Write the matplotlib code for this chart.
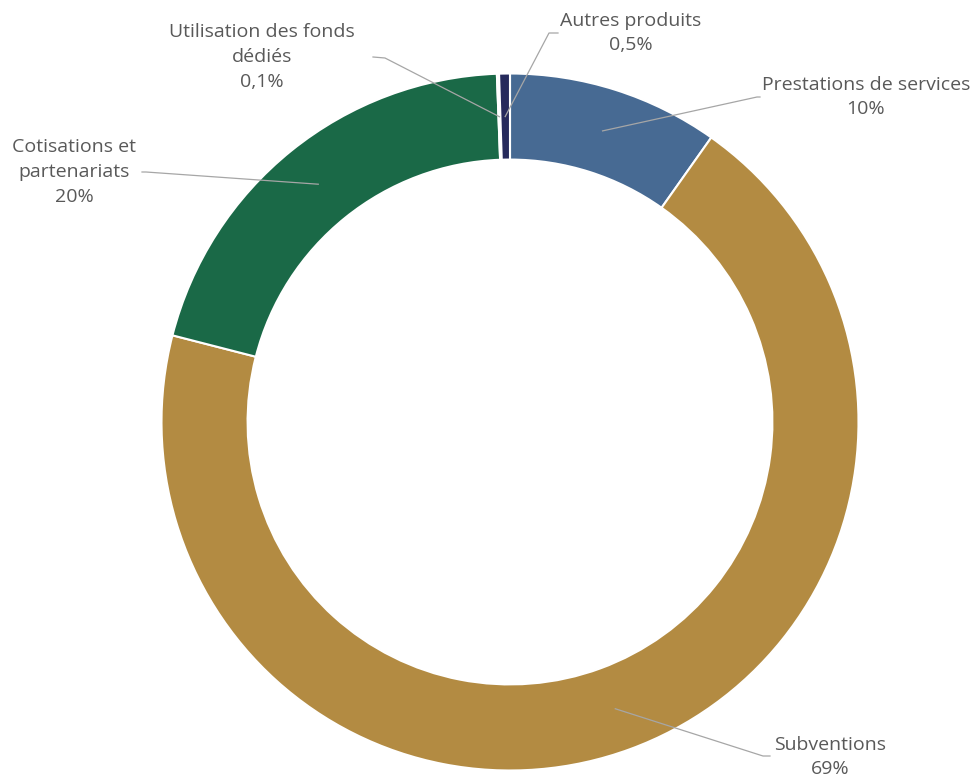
import numpy as np
import matplotlib.pyplot as plt

# Répartition des produits (ordre horaire depuis midi)
categories = ["Prestations de services", "Subventions", "Cotisations et\npartenariats",
              "Utilisation des fonds\ndédiés", "Autres produits"]
values = [9.8, 69.2, 20.4, 0.1, 0.5]
colors = ["#476A93", "#B38B42", "#1A6947", "#A8D1E6", "#262A5C"]

W, H = 976, 778
R = 348.5
CX, CY = 510.0, 422.0  # centre en pixels (depuis le haut)


def px(x, y):
    # pixels -> coordonnées données
    return (x - CX) / R, (CY - y) / R


# position des étiquettes (pixels), coude et fin de la ligne de rappel
label_pos = [(866, 97), (830, 757), (74, 172), (262, 57), (631, 33)]
line_pts = [((757, 97), (760, 97)),
            ((763, 756), (770, 756)),
            ((146, 172), (142, 172)),
            ((385, 58), (373, 57)),
            ((549, 33), (558, 33))]


def fmt(v):
    if v >= 1:
        return f"{v:.0f}%"
    return f"{v:.1f}%".replace(".", ",")


fig = plt.figure(figsize=(W / 100, H / 100), dpi=100)
ax = fig.add_axes([0, 0, 1, 1])

width = 0.247
wedges, _ = ax.pie(values, colors=colors, startangle=90, counterclock=False,
                   radius=1, wedgeprops=dict(width=width, edgecolor="white", linewidth=1.5))
ax.set_xlim(-CX / R, (W - CX) / R)
ax.set_ylim(-(H - CY) / R, CY / R)
ax.axis("off")

rmid = 1 - width / 2
for w, cat, v, pos, (elbow, end) in zip(wedges, categories, values, label_pos, line_pts):
    ang = np.deg2rad((w.theta1 + w.theta2) / 2)
    x0, y0 = rmid * np.cos(ang), rmid * np.sin(ang)
    ex, ey = px(*elbow)
    fx, fy = px(*end)
    ax.plot([x0, ex, fx], [y0, ey, fy], color="#A6A6A6", lw=0.9, zorder=5)
    tx, ty = px(*pos)
    ax.text(tx, ty, f"{cat}\n{fmt(v)}", ha="center", va="center", fontsize=14,
            color="#595959", family="Open Sans", linespacing=1.5)

fig.savefig("out.png", dpi=100)
